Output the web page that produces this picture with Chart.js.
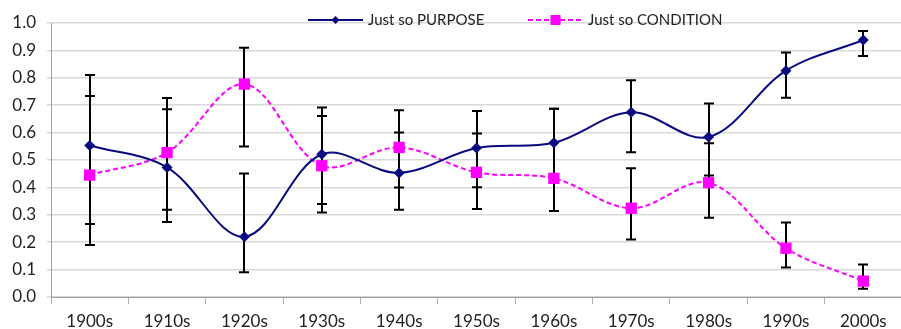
<!DOCTYPE html>
<html>
<head>
<meta charset="utf-8">
<script src="https://cdn.jsdelivr.net/npm/chart.js@4.4.1/dist/chart.umd.min.js"></script>
<style>
  html, body { margin: 0; padding: 0; background: #fff; overflow: hidden; }
  #wrap { position: relative; width: 910px; height: 329px; }
</style>
</head>
<body>
<div id="wrap"><canvas id="c"></canvas></div>
<script>
const categories = ['1900s','1910s','1920s','1930s','1940s','1950s','1960s','1970s','1980s','1990s','2000s'];
const purpose   = [0.553, 0.473, 0.220, 0.521, 0.453, 0.544, 0.563, 0.674, 0.584, 0.826, 0.938];
const condition = [0.445, 0.527, 0.777, 0.479, 0.546, 0.455, 0.433, 0.324, 0.417, 0.178, 0.058];
const purposeLow    = [0.266, 0.274, 0.090, 0.339, 0.318, 0.401, 0.314, 0.528, 0.443, 0.727, 0.880];
const purposeHigh   = [0.810, 0.685, 0.451, 0.692, 0.600, 0.679, 0.687, 0.791, 0.706, 0.892, 0.971];
const conditionLow  = [0.190, 0.318, 0.549, 0.308, 0.400, 0.321, 0.314, 0.210, 0.289, 0.108, 0.030];
const conditionHigh = [0.734, 0.726, 0.910, 0.661, 0.682, 0.597, 0.687, 0.470, 0.561, 0.272, 0.119];
const yTicks = [0, 0.1, 0.2, 0.3, 0.4, 0.5, 0.6, 0.7, 0.8, 0.9, 1.0];

const NAVY = '#0a0a80';
const MAG = '#ff00ff';
const FONT = 'Lato, "Open Sans", sans-serif';

const errorBars = {
  id: 'errorBars',
  beforeDatasetsDraw(chart) {
    const ctx = chart.ctx, x = chart.scales.x, y = chart.scales.y;
    ctx.save();
    ctx.strokeStyle = '#000';
    ctx.lineWidth = 2;
    const sets = [[purposeLow, purposeHigh], [conditionLow, conditionHigh]];
    sets.forEach(([lo, hi]) => {
      lo.forEach((l, i) => {
        const px = Math.round(x.getPixelForValue(i));
        const yl = y.getPixelForValue(l), yh = y.getPixelForValue(hi[i]);
        ctx.beginPath();
        ctx.moveTo(px, yl); ctx.lineTo(px, yh);
        ctx.moveTo(px - 5, yl); ctx.lineTo(px + 5, yl);
        ctx.moveTo(px - 5, yh); ctx.lineTo(px + 5, yh);
        ctx.stroke();
      });
    });
    ctx.restore();
  }
};

const customLegend = {
  id: 'customLegend',
  afterDraw(chart) {
    const ctx = chart.ctx;
    const ds = chart.data.datasets;
    const items = [{x: 308, ds: ds[0]}, {x: 528, ds: ds[1]}];
    const cy = 20;
    ctx.save();
    items.forEach(it => {
      const d = it.ds;
      ctx.strokeStyle = d.borderColor;
      ctx.lineWidth = 2;
      ctx.setLineDash(d.borderDash || []);
      ctx.beginPath();
      ctx.moveTo(it.x, cy); ctx.lineTo(it.x + 55, cy);
      ctx.stroke();
      ctx.setLineDash([]);
      ctx.fillStyle = d.pointBackgroundColor;
      const mx = it.x + 27.5;
      if (d.pointStyle === 'rectRot') {
        const r = 4;
        ctx.beginPath();
        ctx.moveTo(mx, cy - r); ctx.lineTo(mx + r, cy); ctx.lineTo(mx, cy + r); ctx.lineTo(mx - r, cy);
        ctx.closePath(); ctx.fill();
      } else {
        ctx.fillRect(mx - 5, cy - 5, 10, 10);
      }
      ctx.fillStyle = '#222';
      ctx.font = '15px ' + FONT;
      ctx.textBaseline = 'middle';
      ctx.textAlign = 'left';
      ctx.fillText(d.label, it.x + 60, cy + 0.5);
    });
    ctx.restore();
  }
};

new Chart(document.getElementById('c'), {
  type: 'line',
  data: {
    labels: categories,
    datasets: [
      {
        label: 'Just so PURPOSE',
        data: purpose,
        borderColor: NAVY,
        backgroundColor: NAVY,
        borderWidth: 2,
        pointStyle: 'rectRot',
        pointRadius: 5.5,
        pointBackgroundColor: NAVY,
        pointBorderWidth: 0,
        tension: 0.35,
        fill: false
      },
      {
        label: 'Just so CONDITION',
        data: condition,
        borderColor: MAG,
        backgroundColor: MAG,
        borderWidth: 2,
        borderDash: [5, 3],
        pointStyle: 'rect',
        pointRadius: 8,
        pointBackgroundColor: MAG,
        pointBorderWidth: 0,
        tension: 0.35,
        fill: false
      }
    ]
  },
  options: {
    responsive: true,
    maintainAspectRatio: false,
    animation: false,
    layout: { padding: { top: 23, right: 2, left: 0, bottom: 0 } },
    plugins: { legend: { display: false }, tooltip: { enabled: false } },
    scales: {
      x: {
        offset: true,
        grid: { offset: true, drawOnChartArea: false, drawTicks: true, tickLength: 7, color: '#b0b0b0', lineWidth: 1 },
        border: { color: '#a0a0a0', width: 1 },
        ticks: { color: '#222', font: { family: FONT, size: 17 }, padding: 7, maxRotation: 0, autoSkip: false },
        afterFit(s) { s.height = 32; }
      },
      y: {
        min: 0, max: 1,
        afterBuildTicks(s) { s.ticks = yTicks.map(v => ({ value: v })); },
        grid: { color: '#d9d9d9', lineWidth: 1.5, tickLength: 4, drawTicks: true },
        border: { color: '#a0a0a0', width: 1 },
        ticks: { color: '#222', font: { family: FONT, size: 17 }, padding: 11, callback: v => Number(v).toFixed(1) },
        afterFit(s) { s.width = 51; }
      }
    }
  },
  plugins: [errorBars, customLegend]
});
</script>
</body>
</html>
